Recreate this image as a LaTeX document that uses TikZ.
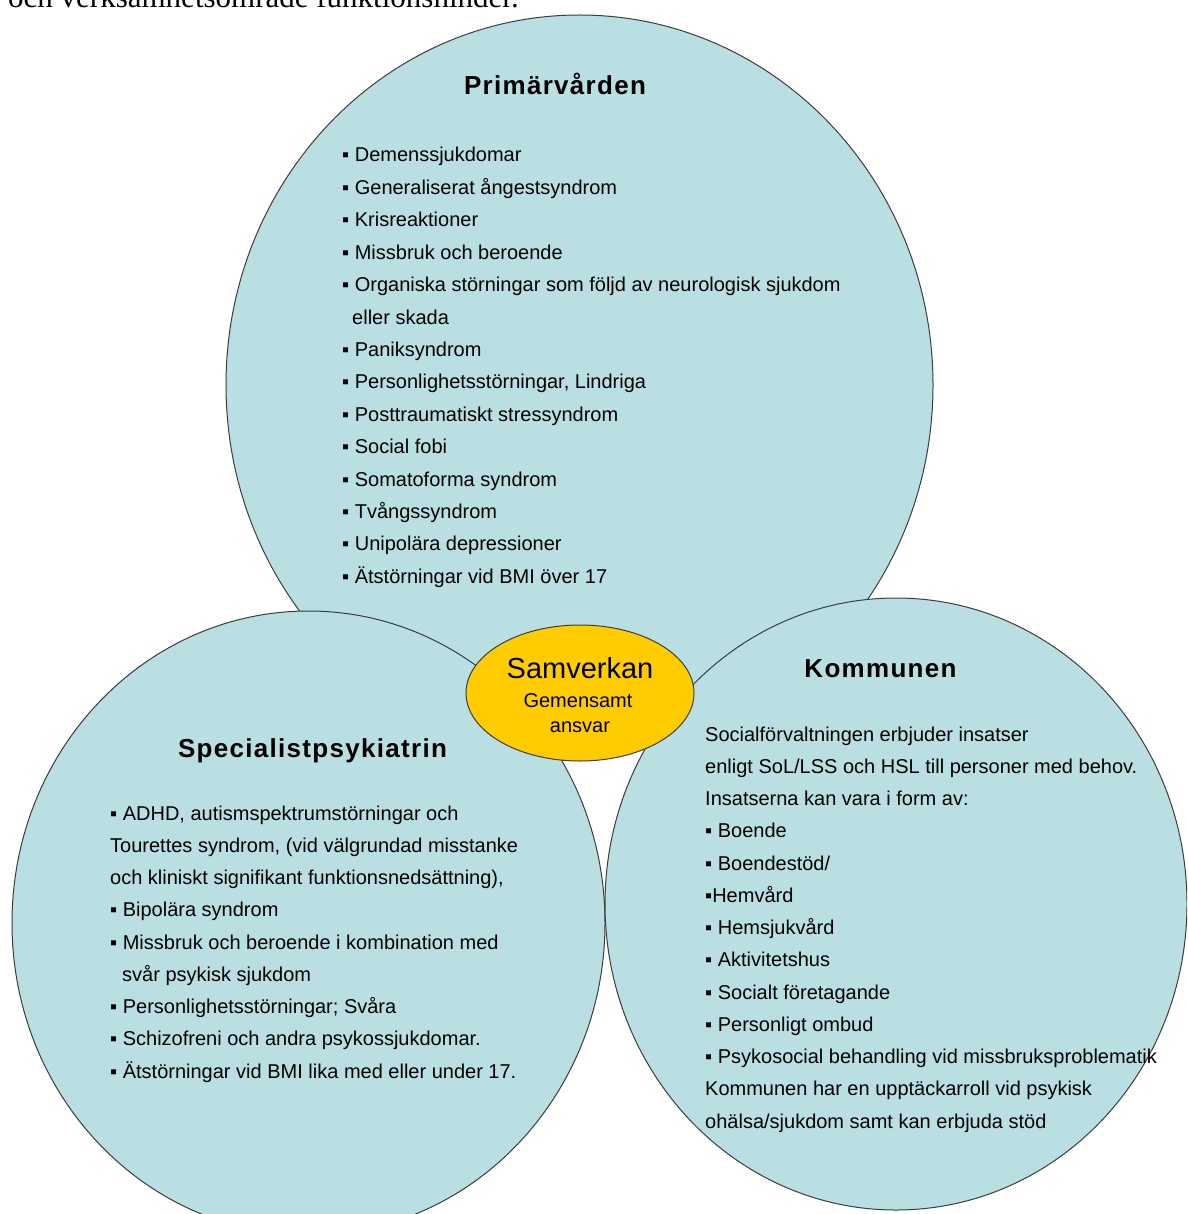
\documentclass[tikz,border=0pt]{standalone}
\usepackage{fontspec}
\setmainfont{Liberation Sans}
\newfontfamily\headfont[LetterSpace=5]{Liberation Sans}
\newfontfamily\timesfont{Liberation Serif}
\usetikzlibrary{shapes.geometric}
\definecolor{vennblue}{RGB}{185,223,227}
\definecolor{vennline}{RGB}{60,60,60}
\definecolor{samgul}{RGB}{255,204,0}
\tikzset{
  venn/.style={ellipse, draw=vennline, line width=1pt, fill=vennblue, inner sep=0pt},
  head/.style={anchor=base, inner sep=0pt, font=\headfont\bfseries\fontsize{26}{30}\selectfont},
  item/.style={anchor=base west, inner sep=0pt, font=\fontsize{20}{24}\selectfont},
}
\begin{document}
\begin{tikzpicture}[x=1pt, y=-1pt]
\useasboundingbox (0,0) rectangle (1187,1214);
\clip (0,0) rectangle (1187,1214);
\node[anchor=base west, inner sep=0pt, font=\timesfont\fontsize{31}{31}\selectfont] (rubrik) at (8,8) {och verksamhetsområde funktionshinder.};

\node[venn, minimum width=707pt, minimum height=740pt] (prim) at (579.5,385) {};
\node[venn, minimum width=593pt, minimum height=624pt] (spec) at (308.5,923) {};
\node[venn, minimum width=582pt, minimum height=612pt] (komm) at (896,904) {};
\node[ellipse, draw=vennline, line width=1pt, fill=samgul, inner sep=0pt, minimum width=228pt, minimum height=136pt] (samv) at (580,693) {};

\node[head] (primt) at (555,95) {Primärvården};
\node[head] (spect) at (312.5,757) {Specialistpsykiatrin};
\node[head] (kommt) at (880.5,677) {Kommunen};

\node[anchor=base, inner sep=0pt, font=\fontsize{29}{30}\selectfont] (samv1) at (580,678) {Samverkan};
\node[anchor=base, inner sep=0pt, font=\fontsize{20}{22}\selectfont] (samv2) at (578,707) {Gemensamt};
\node[anchor=base, inner sep=0pt, font=\fontsize{20}{22}\selectfont] (samv3) at (580,732) {ansvar};

\foreach \t [count=\i] in {{▪ Demenssjukdomar}, {▪ Generaliserat ångestsyndrom}, {▪ Krisreaktioner},
  {▪ Missbruk och beroende}, {▪ Organiska störningar som följd av neurologisk sjukdom},
  {\hspace*{10pt}eller skada}, {▪ Paniksyndrom}, {▪ Personlighetsstörningar, Lindriga},
  {▪ Posttraumatiskt stressyndrom}, {▪ Social fobi}, {▪ Somatoforma syndrom},
  {▪ Tvångssyndrom}, {▪ Unipolära depressioner}, {▪ Ätstörningar vid BMI över 17}}
  \node[item] (p\i) at (342,{162+32.4*(\i-1)}) {\t};

\foreach \t [count=\i] in {{▪ ADHD, autismspektrumstörningar och},
  {Tourettes syndrom, (vid välgrundad misstanke}, {och kliniskt signifikant funktionsnedsättning),},
  {▪ Bipolära syndrom}, {▪ Missbruk och beroende i kombination med},
  {\hspace*{12pt}svår psykisk sjukdom}, {▪ Personlighetsstörningar; Svåra},
  {▪ Schizofreni och andra psykossjukdomar.}, {▪ Ätstörningar vid BMI lika med eller under 17.}}
  \node[item] (s\i) at (110,{820+32.25*(\i-1)}) {\t};

\foreach \t [count=\i] in {{Socialförvaltningen erbjuder insatser},
  {enligt SoL/LSS och HSL till personer med behov.}, {Insatserna kan vara i form av:},
  {▪ Boende}, {▪ Boendestöd/}, {▪Hemvård}, {▪ Hemsjukvård}, {▪ Aktivitetshus},
  {▪ Socialt företagande}, {▪ Personligt ombud}, {▪ Psykosocial behandling vid missbruksproblematik},
  {Kommunen har en upptäckarroll vid psykisk}, {ohälsa/sjukdom samt kan erbjuda stöd}}
  \node[item] (k\i) at (705,{741+32.25*(\i-1)}) {\t};
\end{tikzpicture}
\end{document}
